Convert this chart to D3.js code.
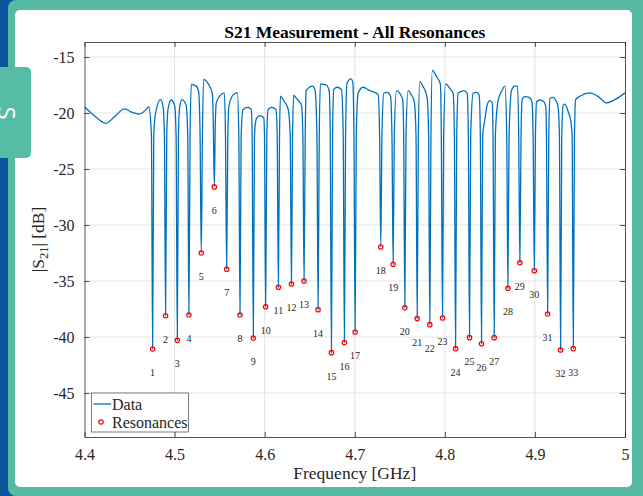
<!DOCTYPE html>
<html><head><meta charset="utf-8">
<script src="https://cdn.jsdelivr.net/npm/d3@7"></script>
<style>body{margin:0;background:#fff;overflow:hidden} svg{display:block}</style>
</head><body><svg id="c" width="643" height="496"></svg>
<script>
// ---- data ----
const resFreq = [4.4756,4.4900,4.5030,4.5159,4.5296,4.5441,4.5578,4.5726,4.5874,4.6011,4.6152,4.6297,4.6437,4.6593,4.6741,4.6885,4.7004,4.7289,4.7426,4.7556,4.7693,4.7833,4.7974,4.8119,4.8274,4.8407,4.8548,4.8700,4.8833,4.8993,4.9141,4.9285,4.9426];
const resDb = [-41.07,-38.10,-40.30,-38.04,-32.50,-26.60,-33.96,-38.04,-40.10,-37.30,-35.56,-35.27,-35.00,-37.56,-41.40,-40.50,-39.55,-31.96,-33.50,-37.40,-38.36,-38.90,-38.30,-41.04,-40.06,-40.60,-40.06,-35.65,-33.37,-34.08,-37.95,-41.16,-41.04];
const resLabels = resFreq.map((d,i)=>String(i+1));
// measured trace [GHz, dB]
const trace = [
[4.4000,-19.44],[4.4130,-20.38],[4.4241,-20.92],[4.4333,-20.33],[4.4444,-19.64],[4.4537,-19.97],[4.4611,-20.09],[4.4686,-19.67],[4.4714,-19.44],
[4.4743,-22],[4.4756,-41.07],[4.4769,-22],
[4.4789,-20.0],[4.4844,-18.8],[4.4872,-19.4],
[4.4887,-22],[4.4900,-38.10],[4.4913,-22],
[4.4928,-19.6],[4.4963,-18.84],[4.5000,-19.3],
[4.5017,-22],[4.5030,-40.30],[4.5043,-22],
[4.5056,-19.5],[4.5081,-18.8],[4.5128,-19.3],
[4.5146,-22],[4.5159,-38.04],[4.5172,-22],
[4.5186,-17.44],[4.5241,-17.6],[4.5267,-18.1],
[4.5283,-22],[4.5296,-32.50],[4.5309,-22],
[4.5322,-17.0],[4.5370,-17.35],[4.5419,-18.24],
[4.5430,-21],[4.5441,-26.60],[4.5452,-21],
[4.5463,-19.1],[4.5500,-18.5],[4.5552,-18.2],
[4.5565,-22],[4.5578,-33.96],[4.5591,-22],
[4.5603,-19.4],[4.5648,-18.4],[4.5697,-18.2],
[4.5713,-22],[4.5726,-38.04],[4.5739,-22],
[4.5759,-19.7],[4.5814,-19.5],[4.5852,-19.7],
[4.5861,-22],[4.5874,-40.10],[4.5887,-22],
[4.5908,-20.5],[4.5944,-20.24],[4.5989,-20.4],
[4.5998,-22],[4.6011,-37.30],[4.6024,-22],
[4.6037,-19.7],[4.6078,-19.5],[4.6126,-19.7],
[4.6139,-22],[4.6152,-35.56],[4.6165,-22],
[4.6176,-18.5],[4.6211,-18.9],[4.6259,-19.6],
[4.6284,-22],[4.6297,-35.27],[4.6310,-22],
[4.6322,-18.4],[4.6352,-18.7],[4.6408,-19.3],
[4.6424,-22],[4.6437,-35.00],[4.6450,-22],
[4.6461,-18.0],[4.6481,-17.8],[4.6530,-17.6],[4.6559,-17.95],
[4.6580,-22],[4.6593,-37.56],[4.6606,-22],
[4.6619,-17.4],[4.6648,-17.44],[4.6686,-17.5],[4.6717,-18.1],
[4.6728,-22],[4.6741,-41.40],[4.6754,-22],
[4.6767,-17.9],[4.6803,-17.7],[4.6852,-17.9],
[4.6872,-22],[4.6885,-40.50],[4.6898,-22],
[4.6914,-17.35],[4.6956,-16.96],[4.6978,-17.2],
[4.6991,-22],[4.7004,-39.55],[4.7017,-22],
[4.7037,-18.24],[4.7092,-17.7],[4.7167,-18.0],[4.7259,-18.33],
[4.7276,-22],[4.7289,-31.96],[4.7302,-22],
[4.7322,-18.24],[4.7363,-18.15],[4.7397,-18.5],
[4.7413,-22],[4.7426,-33.50],[4.7439,-22],
[4.7463,-18.0],[4.7500,-18.24],[4.7533,-18.84],
[4.7543,-22],[4.7556,-37.40],[4.7569,-22],
[4.7592,-18.0],[4.7630,-18.4],[4.7661,-19.0],
[4.7680,-22],[4.7693,-38.36],[4.7706,-22],
[4.7722,-17.2],[4.7759,-17.65],[4.7786,-18.1],[4.7806,-18.84],
[4.7820,-22],[4.7833,-38.90],[4.7846,-22],
[4.7861,-16.2],[4.7908,-16.76],[4.7950,-17.4],
[4.7961,-22],[4.7974,-38.30],[4.7987,-22],
[4.8008,-17.4],[4.8056,-17.8],[4.8092,-18.24],
[4.8106,-22],[4.8119,-41.04],[4.8132,-22],
[4.8148,-18.24],[4.8211,-18.0],[4.8248,-18.24],
[4.8261,-22],[4.8274,-40.06],[4.8287,-22],
[4.8314,-18.24],[4.8352,-18.15],[4.8381,-18.4],
[4.8394,-22],[4.8407,-40.60],[4.8420,-22],
[4.8444,-20.6],[4.8470,-19.3],[4.8500,-18.9],[4.8526,-19.1],
[4.8535,-22],[4.8548,-40.06],[4.8561,-22],
[4.8592,-18.84],[4.8637,-17.95],[4.8667,-17.6],
[4.8687,-22],[4.8700,-35.65],[4.8713,-22],
[4.8741,-17.95],[4.8778,-17.6],[4.8808,-17.6],
[4.8820,-22],[4.8833,-33.37],[4.8846,-22],
[4.8858,-18.8],[4.8889,-18.54],[4.8937,-18.6],[4.8967,-19.0],
[4.8980,-22],[4.8993,-34.08],[4.9006,-22],
[4.9019,-19.0],[4.9056,-18.84],[4.9100,-19.0],[4.9120,-19.44],
[4.9128,-22],[4.9141,-37.95],[4.9154,-22],
[4.9167,-18.7],[4.9197,-18.6],[4.9241,-19.0],[4.9259,-19.6],
[4.9272,-22],[4.9285,-41.16],[4.9298,-22],
[4.9314,-19.3],[4.9333,-19.2],[4.9370,-19.9],[4.9400,-20.8],
[4.9413,-22],[4.9426,-41.04],[4.9439,-22],
[4.9452,-18.8],[4.9500,-18.5],[4.9611,-18.2],[4.9703,-18.54],[4.9797,-19.1],[4.9889,-18.8],[5.0000,-18.2]
];
const xTicks = [4.4,4.5,4.6,4.7,4.8,4.9,5];
const xTickLabels = ["4.4","4.5","4.6","4.7","4.8","4.9","5"];
const yTicks = [-45,-40,-35,-30,-25,-20,-15];
const yTickLabels = ["-45","-40","-35","-30","-25","-20","-15"];
const xDomain = [4.4, 5.0];
const yDomain = [-48.93, -13.66];

// ---- frame ----
const svg = d3.select("#c");
const teal = "#55b9a3";
svg.append("rect").attr("width",643).attr("height",496).attr("fill","#0b559e");
svg.append("rect").attr("x",8).attr("y",0).attr("width",660).attr("height",496).attr("rx",8).attr("fill",teal);
svg.append("rect").attr("x",15).attr("y",10).attr("width",617).attr("height",477).attr("rx",5).attr("fill","#ffffff");

// ---- plot ----
const L=84.5, R=625, T=42, B=437;
const x = d3.scaleLinear().domain(xDomain).range([L,R]);
const y = d3.scaleLinear().domain(yDomain).range([B,T]);
const serif = "'Liberation Serif','Times New Roman',serif";
const ink = "#262626";

const g = svg.append("g");
// grid
g.append("g").selectAll("line").data(xTicks.slice(1,-1)).join("line")
  .attr("x1",d=>x(d)).attr("x2",d=>x(d)).attr("y1",T).attr("y2",B)
  .attr("stroke","#e3e3e3").attr("stroke-width",1);
g.append("g").selectAll("line").data(yTicks).join("line")
  .attr("y1",d=>y(d)).attr("y2",d=>y(d)).attr("x1",L).attr("x2",R)
  .attr("stroke","#e3e3e3").attr("stroke-width",1);

// trace
svg.append("clipPath").attr("id","clip").append("rect").attr("x",L).attr("y",T).attr("width",R-L).attr("height",B-T);
const line = d3.line().x(d=>x(d[0])).y(d=>y(d[1])).curve(d3.curveMonotoneX);
g.append("path").datum(trace).attr("d",line).attr("fill","none")
  .attr("stroke","#0072bd").attr("stroke-width",1.3).attr("clip-path","url(#clip)");

// markers
g.append("g").selectAll("circle").data(resFreq).join("circle")
  .attr("cx",d=>x(d)).attr("cy",(d,i)=>y(resDb[i])).attr("r",2.2)
  .attr("fill","none").attr("stroke","#ff0000").attr("stroke-width",1.2);

// labels
g.append("g").selectAll("text").data(resLabels).join("text")
  .attr("x",(d,i)=>x(resFreq[i])).attr("y",(d,i)=>y(resDb[i]-2.1))
  .attr("text-anchor","middle").attr("dominant-baseline","central")
  .attr("font-family",serif).attr("font-size",10).attr("fill",ink).text(d=>d);

// axes
const axB = d3.axisBottom(x).tickValues(xTicks).tickFormat((d,i)=>xTickLabels[i]).tickSizeInner(-5).tickSizeOuter(0).tickPadding(12);
const axL = d3.axisLeft(y).tickValues(yTicks).tickFormat((d,i)=>yTickLabels[i]).tickSizeInner(-5).tickSizeOuter(0).tickPadding(10);
const axT = d3.axisTop(x).tickValues(xTicks).tickFormat("").tickSizeInner(-5).tickSizeOuter(0);
const axR = d3.axisRight(y).tickValues(yTicks).tickFormat("").tickSizeInner(-5).tickSizeOuter(0);
function style(sel){
  sel.selectAll("path").attr("stroke",ink).attr("stroke-width",0.8);
  sel.selectAll("line").attr("stroke",ink).attr("stroke-width",0.8);
  sel.selectAll("text").attr("font-family",serif).attr("font-size",16).attr("fill",ink);
}
g.append("g").attr("transform",`translate(0,${B})`).call(axB).call(style);
g.append("g").attr("transform",`translate(${L},0)`).call(axL).call(style);
g.append("g").attr("transform",`translate(0,${T})`).call(axT).call(style);
g.append("g").attr("transform",`translate(${R},0)`).call(axR).call(style);

// titles
svg.append("text").attr("x",(L+R)/2).attr("y",38).attr("text-anchor","middle")
  .attr("font-family",serif).attr("font-weight","bold").attr("font-size",17.5).attr("fill","#000")
  .text("S21 Measurement - All Resonances");
svg.append("text").attr("x",(L+R)/2).attr("y",479).attr("text-anchor","middle")
  .attr("font-family",serif).attr("font-size",17.5).attr("fill",ink).text("Frequency [GHz]");
const yl = svg.append("text").attr("transform",`translate(44,${(T+B)/2}) rotate(-90)`).attr("text-anchor","middle")
  .attr("font-family",serif).attr("font-size",17.5).attr("fill",ink);
yl.append("tspan").text("|S");
yl.append("tspan").attr("font-size",12.5).attr("dy",4).text("21");
yl.append("tspan").attr("dy",-4).text("| [dB]");

// legend
const lg = svg.append("g");
lg.append("rect").attr("x",91.5).attr("y",393).attr("width",97).attr("height",39)
  .attr("fill","#fff").attr("stroke",ink).attr("stroke-width",0.6);
lg.append("line").attr("x1",93.5).attr("x2",111).attr("y1",404).attr("y2",404).attr("stroke","#0072bd").attr("stroke-width",1.3);
lg.append("circle").attr("cx",101).attr("cy",422).attr("r",2.2).attr("fill","none").attr("stroke","#ff0000").attr("stroke-width",1.2);
lg.append("text").attr("x",112).attr("y",404).attr("dominant-baseline","central").attr("font-family",serif).attr("font-size",16).attr("fill",ink).text("Data");
lg.append("text").attr("x",112).attr("y",422).attr("dominant-baseline","central").attr("font-family",serif).attr("font-size",16).attr("fill",ink).text("Resonances");

// side tab
svg.append("rect").attr("x",-8).attr("y",67).attr("width",39).attr("height",91).attr("rx",5).attr("fill","#57bca6");
svg.append("text").attr("transform","translate(7,113) rotate(90)").attr("text-anchor","middle")
  .attr("dominant-baseline","central")
  .attr("font-family","'Open Sans',sans-serif").attr("font-size",24).attr("fill","#fff").text("S");
</script></body></html>
